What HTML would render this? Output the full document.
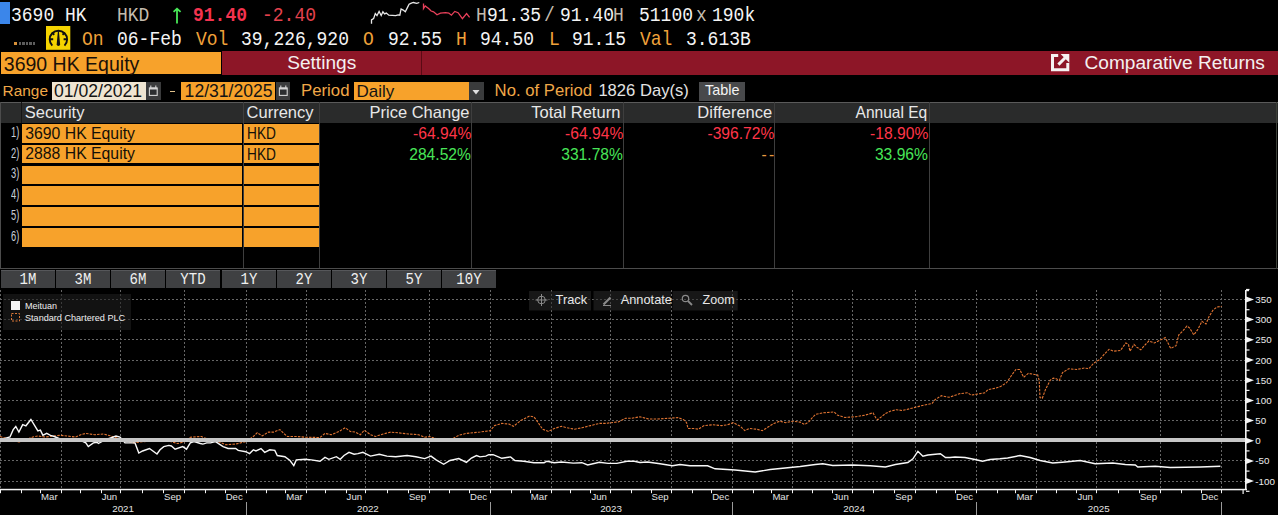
<!DOCTYPE html>
<html><head><meta charset="utf-8"><title>Comparative Returns</title>
<style>
html,body{margin:0;padding:0;background:#000;}
body{width:1278px;height:515px;position:relative;overflow:hidden;font-family:'Liberation Sans',sans-serif;}
.t{position:absolute;white-space:pre;}
.r{position:absolute;}
svg{position:absolute;left:0;top:0;}
</style></head><body>
<div class="r" style="left:0px;top:2px;width:10px;height:22px;background:#3b86ea;"></div>
<div class="t" style="top:6.32px;font-size:20.8px;line-height:20.8px;color:#f4f4f4;font-family:'Liberation Mono', monospace;left:11.40px;transform:scaleX(0.865);transform-origin:0 0;">3690 HK</div>
<div class="t" style="top:6.32px;font-size:20.8px;line-height:20.8px;color:#c4bcae;font-family:'Liberation Mono', monospace;left:117.40px;transform:scaleX(0.865);transform-origin:0 0;">HKD</div>
<div class="t" style="top:6.32px;font-size:20.8px;line-height:20.8px;color:#f5334f;font-family:'Liberation Mono', monospace;font-weight:bold;left:193.10px;transform:scaleX(0.865);transform-origin:0 0;">91.40</div>
<div class="t" style="top:6.32px;font-size:20.8px;line-height:20.8px;color:#e5424e;font-family:'Liberation Mono', monospace;left:262.00px;transform:scaleX(0.865);transform-origin:0 0;">-2.40</div>
<div class="t" style="top:6.32px;font-size:20.8px;line-height:20.8px;color:#c4bcae;font-family:'Liberation Mono', monospace;left:476.00px;transform:scaleX(0.865);transform-origin:0 0;">H</div>
<div class="t" style="top:6.32px;font-size:20.8px;line-height:20.8px;color:#f4f4f4;font-family:'Liberation Mono', monospace;left:486.80px;transform:scaleX(0.865);transform-origin:0 0;">91.35</div>
<div class="t" style="top:6.32px;font-size:20.8px;line-height:20.8px;color:#c4bcae;font-family:'Liberation Mono', monospace;left:544.30px;transform:scaleX(0.865);transform-origin:0 0;">/</div>
<div class="t" style="top:6.32px;font-size:20.8px;line-height:20.8px;color:#f4f4f4;font-family:'Liberation Mono', monospace;left:560.10px;transform:scaleX(0.865);transform-origin:0 0;">91.40</div>
<div class="t" style="top:6.32px;font-size:20.8px;line-height:20.8px;color:#c4bcae;font-family:'Liberation Mono', monospace;left:613.30px;transform:scaleX(0.865);transform-origin:0 0;">H</div>
<div class="t" style="top:6.32px;font-size:20.8px;line-height:20.8px;color:#f4f4f4;font-family:'Liberation Mono', monospace;left:638.80px;transform:scaleX(0.865);transform-origin:0 0;">51100</div>
<div class="t" style="top:6.32px;font-size:20.8px;line-height:20.8px;color:#c4bcae;font-family:'Liberation Mono', monospace;left:695.80px;transform:scaleX(0.865);transform-origin:0 0;">x</div>
<div class="t" style="top:6.32px;font-size:20.8px;line-height:20.8px;color:#f4f4f4;font-family:'Liberation Mono', monospace;left:711.50px;transform:scaleX(0.865);transform-origin:0 0;">190k</div>
<svg width="1278" height="60" style="position:absolute;left:0;top:0"><path d="M177 9 L177 23.6 M173.6 11.8 L177 8.6 L180.6 11.8" stroke="#48e858" stroke-width="1.8" fill="none"/></svg>
<div class="r" style="left:13.5px;top:41.5px;width:3.5px;height:3.5px;background:#d89038;"></div>
<div class="r" style="left:18.5px;top:41.5px;width:2.5px;height:3.5px;background:#5c5c5c;"></div>
<div class="r" style="left:22.1px;top:41.5px;width:2.5px;height:3.5px;background:#5c5c5c;"></div>
<div class="r" style="left:25.7px;top:41.5px;width:2.5px;height:3.5px;background:#5c5c5c;"></div>
<div class="r" style="left:29.3px;top:41.5px;width:2.5px;height:3.5px;background:#5c5c5c;"></div>
<div class="r" style="left:32.9px;top:41.5px;width:2.5px;height:3.5px;background:#5c5c5c;"></div>
<svg width="30" height="30" style="position:absolute;left:44px;top:24px" viewBox="44 24 30 30"><rect x="46" y="26" width="24.3" height="23.8" fill="#f5d400"/><path d="M52.3 45.6 A8.7 8.7 0 1 1 64.5 45.6" stroke="#111" stroke-width="1.9" fill="none"/><path d="M49.8 39.3 L53.2 39.3 M63.6 39.3 L67 39.3 M51.9 32.6 L54.3 34.8 M64.9 32.6 L62.5 34.8" stroke="#111" stroke-width="1.9"/><path d="M56.7 44.2 L57.9 31.2 L58.9 31.2 L60.1 44.2 A1.7 1.7 0 0 1 56.7 44.2 Z" fill="#111"/></svg>
<div class="t" style="top:30.12px;font-size:20.8px;line-height:20.8px;color:#f0a23a;font-family:'Liberation Mono', monospace;left:82.10px;transform:scaleX(0.865);transform-origin:0 0;">On</div>
<div class="t" style="top:30.12px;font-size:20.8px;line-height:20.8px;color:#f4f4f4;font-family:'Liberation Mono', monospace;left:117.40px;transform:scaleX(0.865);transform-origin:0 0;">06-Feb</div>
<div class="t" style="top:30.12px;font-size:20.8px;line-height:20.8px;color:#f0a23a;font-family:'Liberation Mono', monospace;left:196.20px;transform:scaleX(0.865);transform-origin:0 0;">Vol</div>
<div class="t" style="top:30.12px;font-size:20.8px;line-height:20.8px;color:#f4f4f4;font-family:'Liberation Mono', monospace;left:241.30px;transform:scaleX(0.865);transform-origin:0 0;">39,226,920</div>
<div class="t" style="top:30.12px;font-size:20.8px;line-height:20.8px;color:#f0a23a;font-family:'Liberation Mono', monospace;left:363.40px;transform:scaleX(0.865);transform-origin:0 0;">O</div>
<div class="t" style="top:30.12px;font-size:20.8px;line-height:20.8px;color:#f4f4f4;font-family:'Liberation Mono', monospace;left:387.70px;transform:scaleX(0.865);transform-origin:0 0;">92.55</div>
<div class="t" style="top:30.12px;font-size:20.8px;line-height:20.8px;color:#f0a23a;font-family:'Liberation Mono', monospace;left:456.30px;transform:scaleX(0.865);transform-origin:0 0;">H</div>
<div class="t" style="top:30.12px;font-size:20.8px;line-height:20.8px;color:#f4f4f4;font-family:'Liberation Mono', monospace;left:480.00px;transform:scaleX(0.865);transform-origin:0 0;">94.50</div>
<div class="t" style="top:30.12px;font-size:20.8px;line-height:20.8px;color:#f0a23a;font-family:'Liberation Mono', monospace;left:548.50px;transform:scaleX(0.865);transform-origin:0 0;">L</div>
<div class="t" style="top:30.12px;font-size:20.8px;line-height:20.8px;color:#f4f4f4;font-family:'Liberation Mono', monospace;left:572.20px;transform:scaleX(0.865);transform-origin:0 0;">91.15</div>
<div class="t" style="top:30.12px;font-size:20.8px;line-height:20.8px;color:#f0a23a;font-family:'Liberation Mono', monospace;left:639.80px;transform:scaleX(0.865);transform-origin:0 0;">Val</div>
<div class="t" style="top:30.12px;font-size:20.8px;line-height:20.8px;color:#f4f4f4;font-family:'Liberation Mono', monospace;left:685.80px;transform:scaleX(0.865);transform-origin:0 0;">3.613B</div>
<svg width="1278" height="60" style="position:absolute;left:0;top:0"><polyline points="371.5,23.7 371.5,19.9 373.6,18.6 375.3,13.5 377,15.6 379.1,11.4 381.2,15.6 382.9,11.8 384.6,13.9 386.3,13.1 388.8,15.2 395.6,15.6 398.1,14.8 399.8,15.2 401.1,8.9 403.2,10.1 405.3,11.8 407.4,7.6 409.1,4.2 410.8,3.4 413.3,2.5 416.7,3.4 419.3,2.5" stroke="#e8e8e8" stroke-width="1.3" fill="none"/><polyline points="423.5,3.4 423.5,8.5 425.2,5.9 428.6,8.5 431.1,11 433.6,11.8 437,14.8 440.4,13.1 445.5,12.7 448.8,13.1 451.4,15.2 454.8,11.4 458.1,12.7 462.4,18.6 466.6,13.5 469.6,17.3" stroke="#e8405a" stroke-width="1.3" fill="none"/></svg>
<div class="r" style="left:1px;top:51.8px;width:220.3px;height:22.400000000000006px;background:#f7a22b;"></div>
<div class="r" style="left:222px;top:51px;width:1056px;height:24.400000000000006px;background:#8d1627;"></div>
<div class="r" style="left:421px;top:51px;width:1px;height:24px;background:#5a0a14;"></div>
<div class="t" style="top:54.88px;font-size:19.5px;line-height:19.5px;color:#1a1008;font-family:'Liberation Sans', sans-serif;left:3.80px;">3690 HK Equity</div>
<div class="t" style="top:52.54px;font-size:19.1px;line-height:19.1px;color:#f4f0f0;font-family:'Liberation Sans', sans-serif;left:287.20px;">Settings</div>
<div class="t" style="top:52.54px;font-size:19.1px;line-height:19.1px;color:#f4f0f0;font-family:'Liberation Sans', sans-serif;left:1084.50px;">Comparative Returns</div>
<svg width="24" height="24" style="position:absolute;left:1048px;top:51px" viewBox="1048 51 24 24"><path d="M1058.2 55.5 H1052.5 V69.7 H1067.8 V63" stroke="#f6f2f2" stroke-width="3" fill="none"/><path d="M1060.6 54 H1069.3 V62.7 Z" fill="#f6f2f2"/><path d="M1058.4 64.6 L1065.2 57.8" stroke="#f6f2f2" stroke-width="3"/></svg>
<div class="t" style="top:82.74px;font-size:15.4px;line-height:15.4px;color:#f0a848;font-family:'Liberation Sans', sans-serif;left:2.60px;">Range</div>
<div class="r" style="left:51.6px;top:82px;width:94.4px;height:18.200000000000003px;background:#efe5d2;"></div>
<div class="t" style="top:83.18px;font-size:17.6px;line-height:17.6px;color:#141414;font-family:'Liberation Sans', sans-serif;left:54.00px;">01/02/2021</div>
<div class="r" style="left:146.4px;top:82px;width:14.300000000000011px;height:18px;background:#3a3b3c;"></div>
<svg width="16" height="20" style="position:absolute;left:146.4px;top:82px" viewBox="0 0 16 20"><rect x="3.4" y="6" width="7.8" height="7.4" fill="#2c2e30" stroke="#d4d4d4" stroke-width="1.1"/><rect x="3.4" y="5.6" width="7.8" height="1.9" fill="#d4d4d4"/><path d="M4.8 3.6 L4.8 6 M9.8 3.6 L9.8 6" stroke="#d4d4d4" stroke-width="1.1"/></svg>
<div class="r" style="left:170.3px;top:90.5px;width:4.5px;height:1.2999999999999972px;background:#e0c08a;"></div>
<div class="r" style="left:181.4px;top:82px;width:93.79999999999998px;height:18.200000000000003px;background:#f7a22b;"></div>
<div class="t" style="top:83.18px;font-size:17.6px;line-height:17.6px;color:#141414;font-family:'Liberation Sans', sans-serif;left:184.60px;">12/31/2025</div>
<div class="r" style="left:275.8px;top:82px;width:14.300000000000011px;height:18px;background:#3a3b3c;"></div>
<svg width="16" height="20" style="position:absolute;left:275.8px;top:82px" viewBox="0 0 16 20"><rect x="3.4" y="6" width="7.8" height="7.4" fill="#2c2e30" stroke="#d4d4d4" stroke-width="1.1"/><rect x="3.4" y="5.6" width="7.8" height="1.9" fill="#d4d4d4"/><path d="M4.8 3.6 L4.8 6 M9.8 3.6 L9.8 6" stroke="#d4d4d4" stroke-width="1.1"/></svg>
<div class="t" style="top:83.21px;font-size:16.8px;line-height:16.8px;color:#f0a848;font-family:'Liberation Sans', sans-serif;left:301.00px;">Period</div>
<div class="r" style="left:354.4px;top:82px;width:114.5px;height:18.200000000000003px;background:#f7a22b;"></div>
<div class="t" style="top:83.08px;font-size:17.0px;line-height:17.0px;color:#141414;font-family:'Liberation Sans', sans-serif;left:356.50px;">Daily</div>
<div class="r" style="left:469px;top:82px;width:14.5px;height:18px;background:#3a3b3c;"></div>
<svg width="16" height="20" style="position:absolute;left:469px;top:82px"><path d="M3.5 8 L10.5 8 L7 12.5 Z" fill="#e0e0e0"/></svg>
<div class="t" style="top:83.23px;font-size:16.7px;line-height:16.7px;color:#f0a848;font-family:'Liberation Sans', sans-serif;left:494.60px;">No. of Period</div>
<div class="t" style="top:83.24px;font-size:16.6px;line-height:16.6px;color:#e4e4e4;font-family:'Liberation Sans', sans-serif;left:598.40px;">1826 Day(s)</div>
<div class="r" style="left:699px;top:82px;width:46.10000000000002px;height:19px;background:#48494b;"></div>
<div class="t" style="top:83.10px;font-size:14.4px;line-height:14.4px;color:#f4f4f4;font-family:'Liberation Sans', sans-serif;left:705.00px;">Table</div>
<div class="r" style="left:0px;top:102px;width:1278px;height:1px;background:#5a5a5a;"></div>
<div class="r" style="left:0px;top:103px;width:1278px;height:20px;background:#2a2b2b;"></div>
<div class="r" style="left:0px;top:268px;width:1278px;height:1px;background:#4c4c4c;"></div>
<div class="r" style="left:0px;top:102px;width:1px;height:167px;background:#4c4c4c;"></div>
<div class="r" style="left:1276px;top:102px;width:1px;height:167px;background:#3c4038;"></div>
<div class="r" style="left:21px;top:102px;width:1px;height:21px;background:#151515;"></div>
<div class="r" style="left:243.0px;top:102px;width:1.0px;height:166px;background:#3e3e3e;"></div>
<div class="r" style="left:319.2px;top:102px;width:1.0px;height:166px;background:#3e3e3e;"></div>
<div class="r" style="left:471.0px;top:102px;width:1.0px;height:166px;background:#3e3e3e;"></div>
<div class="r" style="left:623.0px;top:102px;width:1.0px;height:166px;background:#3e3e3e;"></div>
<div class="r" style="left:774.4px;top:102px;width:1.0px;height:166px;background:#3e3e3e;"></div>
<div class="r" style="left:929.0px;top:102px;width:1.0px;height:166px;background:#3e3e3e;"></div>
<div class="t" style="top:104.36px;font-size:16.5px;line-height:16.5px;color:#e8e8e8;font-family:'Liberation Sans', sans-serif;left:24.80px;">Security</div>
<div class="t" style="top:104.36px;font-size:16.5px;line-height:16.5px;color:#e8e8e8;font-family:'Liberation Sans', sans-serif;left:246.60px;">Currency</div>
<div class="t" style="top:104.36px;font-size:16.5px;line-height:16.5px;color:#e8e8e8;font-family:'Liberation Sans', sans-serif;right:808.50px;">Price Change</div>
<div class="t" style="top:104.36px;font-size:16.5px;line-height:16.5px;color:#e8e8e8;font-family:'Liberation Sans', sans-serif;right:657.70px;">Total Return</div>
<div class="t" style="top:104.36px;font-size:16.5px;line-height:16.5px;color:#e8e8e8;font-family:'Liberation Sans', sans-serif;right:505.80px;">Difference</div>
<div class="t" style="top:104.36px;font-size:16.5px;line-height:16.5px;color:#e8e8e8;font-family:'Liberation Sans', sans-serif;right:351.10px;transform:scaleX(0.94);transform-origin:100% 0;">Annual Eq</div>
<div class="r" style="left:22px;top:124.0px;width:220.2px;height:18.599999999999994px;background:#f7a22b;"></div>
<div class="r" style="left:244.2px;top:124.0px;width:74.40000000000003px;height:18.599999999999994px;background:#f7a22b;"></div>
<div class="t" style="top:123.72px;font-size:15.5px;line-height:15.5px;color:#c8ced6;font-family:'Liberation Sans', sans-serif;left:10.60px;transform:scaleX(0.6);transform-origin:0 0;">1)</div>
<div class="r" style="left:22px;top:144.8px;width:220.2px;height:18.599999999999994px;background:#f7a22b;"></div>
<div class="r" style="left:244.2px;top:144.8px;width:74.40000000000003px;height:18.599999999999994px;background:#f7a22b;"></div>
<div class="t" style="top:144.52px;font-size:15.5px;line-height:15.5px;color:#c8ced6;font-family:'Liberation Sans', sans-serif;left:10.60px;transform:scaleX(0.6);transform-origin:0 0;">2)</div>
<div class="r" style="left:22px;top:165.6px;width:220.2px;height:18.599999999999994px;background:#f7a22b;"></div>
<div class="r" style="left:244.2px;top:165.6px;width:74.40000000000003px;height:18.599999999999994px;background:#f7a22b;"></div>
<div class="t" style="top:165.32px;font-size:15.5px;line-height:15.5px;color:#c8ced6;font-family:'Liberation Sans', sans-serif;left:10.60px;transform:scaleX(0.6);transform-origin:0 0;">3)</div>
<div class="r" style="left:22px;top:186.4px;width:220.2px;height:18.599999999999994px;background:#f7a22b;"></div>
<div class="r" style="left:244.2px;top:186.4px;width:74.40000000000003px;height:18.599999999999994px;background:#f7a22b;"></div>
<div class="t" style="top:186.12px;font-size:15.5px;line-height:15.5px;color:#c8ced6;font-family:'Liberation Sans', sans-serif;left:10.60px;transform:scaleX(0.6);transform-origin:0 0;">4)</div>
<div class="r" style="left:22px;top:207.2px;width:220.2px;height:18.600000000000023px;background:#f7a22b;"></div>
<div class="r" style="left:244.2px;top:207.2px;width:74.40000000000003px;height:18.600000000000023px;background:#f7a22b;"></div>
<div class="t" style="top:206.92px;font-size:15.5px;line-height:15.5px;color:#c8ced6;font-family:'Liberation Sans', sans-serif;left:10.60px;transform:scaleX(0.6);transform-origin:0 0;">5)</div>
<div class="r" style="left:22px;top:228.0px;width:220.2px;height:18.599999999999994px;background:#f7a22b;"></div>
<div class="r" style="left:244.2px;top:228.0px;width:74.40000000000003px;height:18.599999999999994px;background:#f7a22b;"></div>
<div class="t" style="top:227.72px;font-size:15.5px;line-height:15.5px;color:#c8ced6;font-family:'Liberation Sans', sans-serif;left:10.60px;transform:scaleX(0.6);transform-origin:0 0;">6)</div>
<div class="t" style="top:125.67px;font-size:15.8px;line-height:15.8px;color:#141008;font-family:'Liberation Sans', sans-serif;left:25.20px;">3690 HK Equity</div>
<div class="t" style="top:124.99px;font-size:16.3px;line-height:16.3px;color:#141008;font-family:'Liberation Sans', sans-serif;left:246.80px;transform:scaleX(0.84);transform-origin:0 0;">HKD</div>
<div class="t" style="top:146.47px;font-size:15.8px;line-height:15.8px;color:#141008;font-family:'Liberation Sans', sans-serif;left:25.20px;">2888 HK Equity</div>
<div class="t" style="top:145.79px;font-size:16.3px;line-height:16.3px;color:#141008;font-family:'Liberation Sans', sans-serif;left:246.80px;transform:scaleX(0.84);transform-origin:0 0;">HKD</div>
<div class="t" style="top:124.61px;font-size:16.2px;line-height:16.2px;color:#ff3548;font-family:'Liberation Sans', sans-serif;right:807.20px;transform:scaleX(0.965);transform-origin:100% 0;">-64.94%</div>
<div class="t" style="top:124.61px;font-size:16.2px;line-height:16.2px;color:#ff3548;font-family:'Liberation Sans', sans-serif;right:655.20px;transform:scaleX(0.965);transform-origin:100% 0;">-64.94%</div>
<div class="t" style="top:124.61px;font-size:16.2px;line-height:16.2px;color:#ff3548;font-family:'Liberation Sans', sans-serif;right:503.90px;transform:scaleX(0.965);transform-origin:100% 0;">-396.72%</div>
<div class="t" style="top:124.61px;font-size:16.2px;line-height:16.2px;color:#ff3548;font-family:'Liberation Sans', sans-serif;right:349.90px;transform:scaleX(0.965);transform-origin:100% 0;">-18.90%</div>
<div class="t" style="top:145.71px;font-size:16.2px;line-height:16.2px;color:#48e658;font-family:'Liberation Sans', sans-serif;right:807.20px;transform:scaleX(0.965);transform-origin:100% 0;">284.52%</div>
<div class="t" style="top:145.71px;font-size:16.2px;line-height:16.2px;color:#48e658;font-family:'Liberation Sans', sans-serif;right:655.20px;transform:scaleX(0.965);transform-origin:100% 0;">331.78%</div>
<div class="t" style="top:145.71px;font-size:16.2px;line-height:16.2px;color:#e89a40;font-family:'Liberation Sans', sans-serif;right:504.40px;transform:scaleX(0.965);transform-origin:100% 0;letter-spacing:-1px;">- -</div>
<div class="t" style="top:145.71px;font-size:16.2px;line-height:16.2px;color:#48e658;font-family:'Liberation Sans', sans-serif;right:349.90px;transform:scaleX(0.965);transform-origin:100% 0;">33.96%</div>
<div class="r" style="left:1.0px;top:269.8px;width:54.1px;height:18.19999999999999px;background:#3f4042;"></div>
<div class="r" style="left:1.0px;top:269.8px;width:54.1px;height:1.0px;background:#56575a;"></div>
<div class="t" style="top:272.15px;font-size:16.5px;line-height:16.5px;color:#f0f0f0;font-family:'Liberation Mono', monospace;left:-171.95px;width:400px;text-align:center;transform:scaleX(0.85);transform-origin:50% 0;">1M</div>
<div class="r" style="left:56.1px;top:269.8px;width:54.1px;height:18.19999999999999px;background:#3f4042;"></div>
<div class="r" style="left:56.1px;top:269.8px;width:54.1px;height:1.0px;background:#56575a;"></div>
<div class="t" style="top:272.15px;font-size:16.5px;line-height:16.5px;color:#f0f0f0;font-family:'Liberation Mono', monospace;left:-116.82px;width:400px;text-align:center;transform:scaleX(0.85);transform-origin:50% 0;">3M</div>
<div class="r" style="left:111.3px;top:269.8px;width:54.10000000000001px;height:18.19999999999999px;background:#3f4042;"></div>
<div class="r" style="left:111.3px;top:269.8px;width:54.10000000000001px;height:1.0px;background:#56575a;"></div>
<div class="t" style="top:272.15px;font-size:16.5px;line-height:16.5px;color:#f0f0f0;font-family:'Liberation Mono', monospace;left:-61.69px;width:400px;text-align:center;transform:scaleX(0.85);transform-origin:50% 0;">6M</div>
<div class="r" style="left:166.4px;top:269.8px;width:54.099999999999994px;height:18.19999999999999px;background:#3f4042;"></div>
<div class="r" style="left:166.4px;top:269.8px;width:54.099999999999994px;height:1.0px;background:#56575a;"></div>
<div class="t" style="top:272.15px;font-size:16.5px;line-height:16.5px;color:#f0f0f0;font-family:'Liberation Mono', monospace;left:-6.56px;width:400px;text-align:center;transform:scaleX(0.85);transform-origin:50% 0;">YTD</div>
<div class="r" style="left:221.5px;top:269.8px;width:54.10000000000002px;height:18.19999999999999px;background:#3f4042;"></div>
<div class="r" style="left:221.5px;top:269.8px;width:54.10000000000002px;height:1.0px;background:#56575a;"></div>
<div class="t" style="top:272.15px;font-size:16.5px;line-height:16.5px;color:#f0f0f0;font-family:'Liberation Mono', monospace;left:48.57px;width:400px;text-align:center;transform:scaleX(0.85);transform-origin:50% 0;">1Y</div>
<div class="r" style="left:276.7px;top:269.8px;width:54.10000000000002px;height:18.19999999999999px;background:#3f4042;"></div>
<div class="r" style="left:276.7px;top:269.8px;width:54.10000000000002px;height:1.0px;background:#56575a;"></div>
<div class="t" style="top:272.15px;font-size:16.5px;line-height:16.5px;color:#f0f0f0;font-family:'Liberation Mono', monospace;left:103.70px;width:400px;text-align:center;transform:scaleX(0.85);transform-origin:50% 0;">2Y</div>
<div class="r" style="left:331.8px;top:269.8px;width:54.099999999999966px;height:18.19999999999999px;background:#3f4042;"></div>
<div class="r" style="left:331.8px;top:269.8px;width:54.099999999999966px;height:1.0px;background:#56575a;"></div>
<div class="t" style="top:272.15px;font-size:16.5px;line-height:16.5px;color:#f0f0f0;font-family:'Liberation Mono', monospace;left:158.83px;width:400px;text-align:center;transform:scaleX(0.85);transform-origin:50% 0;">3Y</div>
<div class="r" style="left:386.9px;top:269.8px;width:54.10000000000002px;height:18.19999999999999px;background:#3f4042;"></div>
<div class="r" style="left:386.9px;top:269.8px;width:54.10000000000002px;height:1.0px;background:#56575a;"></div>
<div class="t" style="top:272.15px;font-size:16.5px;line-height:16.5px;color:#f0f0f0;font-family:'Liberation Mono', monospace;left:213.96px;width:400px;text-align:center;transform:scaleX(0.85);transform-origin:50% 0;">5Y</div>
<div class="r" style="left:442.0px;top:269.8px;width:54.10000000000002px;height:18.19999999999999px;background:#3f4042;"></div>
<div class="r" style="left:442.0px;top:269.8px;width:54.10000000000002px;height:1.0px;background:#56575a;"></div>
<div class="t" style="top:272.15px;font-size:16.5px;line-height:16.5px;color:#f0f0f0;font-family:'Liberation Mono', monospace;left:269.09px;width:400px;text-align:center;transform:scaleX(0.85);transform-origin:50% 0;">10Y</div>
<svg width="1278" height="515" style="position:absolute;left:0;top:0">
<line x1="0" y1="481.5" x2="1245" y2="481.5" stroke="#666666" stroke-width="1" stroke-dasharray="2 2"/>
<line x1="0" y1="460.5" x2="1245" y2="460.5" stroke="#666666" stroke-width="1" stroke-dasharray="2 2"/>
<line x1="0" y1="420.5" x2="1245" y2="420.5" stroke="#666666" stroke-width="1" stroke-dasharray="2 2"/>
<line x1="0" y1="400.5" x2="1245" y2="400.5" stroke="#666666" stroke-width="1" stroke-dasharray="2 2"/>
<line x1="0" y1="380.5" x2="1245" y2="380.5" stroke="#666666" stroke-width="1" stroke-dasharray="2 2"/>
<line x1="0" y1="360.5" x2="1245" y2="360.5" stroke="#666666" stroke-width="1" stroke-dasharray="2 2"/>
<line x1="0" y1="339.5" x2="1245" y2="339.5" stroke="#666666" stroke-width="1" stroke-dasharray="2 2"/>
<line x1="0" y1="319.5" x2="1245" y2="319.5" stroke="#666666" stroke-width="1" stroke-dasharray="2 2"/>
<line x1="0" y1="299.5" x2="1245" y2="299.5" stroke="#666666" stroke-width="1" stroke-dasharray="2 2"/>
<line x1="0.5" y1="290" x2="0.5" y2="489" stroke="#666666" stroke-width="1" stroke-dasharray="2 2"/>
<line x1="61.5" y1="290" x2="61.5" y2="489" stroke="#666666" stroke-width="1" stroke-dasharray="2 2"/>
<line x1="120.5" y1="290" x2="120.5" y2="489" stroke="#666666" stroke-width="1" stroke-dasharray="2 2"/>
<line x1="184.5" y1="290" x2="184.5" y2="489" stroke="#666666" stroke-width="1" stroke-dasharray="2 2"/>
<line x1="246.5" y1="290" x2="246.5" y2="489" stroke="#666666" stroke-width="1" stroke-dasharray="2 2"/>
<line x1="306.5" y1="290" x2="306.5" y2="489" stroke="#666666" stroke-width="1" stroke-dasharray="2 2"/>
<line x1="365.5" y1="290" x2="365.5" y2="489" stroke="#666666" stroke-width="1" stroke-dasharray="2 2"/>
<line x1="429.5" y1="290" x2="429.5" y2="489" stroke="#666666" stroke-width="1" stroke-dasharray="2 2"/>
<line x1="490.5" y1="290" x2="490.5" y2="489" stroke="#666666" stroke-width="1" stroke-dasharray="2 2"/>
<line x1="551.5" y1="290" x2="551.5" y2="489" stroke="#666666" stroke-width="1" stroke-dasharray="2 2"/>
<line x1="610.5" y1="290" x2="610.5" y2="489" stroke="#666666" stroke-width="1" stroke-dasharray="2 2"/>
<line x1="671.5" y1="290" x2="671.5" y2="489" stroke="#666666" stroke-width="1" stroke-dasharray="2 2"/>
<line x1="732.5" y1="290" x2="732.5" y2="489" stroke="#666666" stroke-width="1" stroke-dasharray="2 2"/>
<line x1="792.5" y1="290" x2="792.5" y2="489" stroke="#666666" stroke-width="1" stroke-dasharray="2 2"/>
<line x1="852.5" y1="290" x2="852.5" y2="489" stroke="#666666" stroke-width="1" stroke-dasharray="2 2"/>
<line x1="915.5" y1="290" x2="915.5" y2="489" stroke="#666666" stroke-width="1" stroke-dasharray="2 2"/>
<line x1="976.5" y1="290" x2="976.5" y2="489" stroke="#666666" stroke-width="1" stroke-dasharray="2 2"/>
<line x1="1036.5" y1="290" x2="1036.5" y2="489" stroke="#666666" stroke-width="1" stroke-dasharray="2 2"/>
<line x1="1096.5" y1="290" x2="1096.5" y2="489" stroke="#666666" stroke-width="1" stroke-dasharray="2 2"/>
<line x1="1160.5" y1="290" x2="1160.5" y2="489" stroke="#666666" stroke-width="1" stroke-dasharray="2 2"/>
<line x1="1221.5" y1="290" x2="1221.5" y2="489" stroke="#666666" stroke-width="1" stroke-dasharray="2 2"/>
<rect x="3" y="294" width="128" height="36" fill="#1e1e1e" fill-opacity="0.6"/>
<rect x="11" y="301" width="9" height="9" fill="#f4f4f4"/>
<rect x="11.5" y="313.5" width="8" height="7.5" fill="none" stroke="#e07a38" stroke-width="1" stroke-dasharray="2 1.5"/>
<rect x="529" y="291" width="62" height="19.5" fill="#2a2a2a" fill-opacity="0.55"/>
<rect x="593.5" y="291" width="77.5" height="19.5" fill="#2a2a2a" fill-opacity="0.55"/>
<rect x="672.5" y="291" width="65.20000000000005" height="19.5" fill="#2a2a2a" fill-opacity="0.55"/>
<circle cx="541.5" cy="300" r="3.8" stroke="#8a8a8a" stroke-width="1" fill="none"/><path d="M535.5 300 L547.5 300 M541.5 294 L541.5 306" stroke="#8a8a8a" stroke-width="1"/>
<path d="M603.5 304.5 L610.5 297.5" stroke="#8a8a8a" stroke-width="2.2"/><path d="M603 305.5 L611 305.5" stroke="#8a8a8a" stroke-width="1"/>
<circle cx="685.5" cy="298.5" r="3.2" stroke="#8a8a8a" stroke-width="1.2" fill="none"/><path d="M688 301 L692 305" stroke="#8a8a8a" stroke-width="1.8"/>
<polyline points="0,436.5 5,438 10,440 19,442 25,440 32.8,437 37.9,436 45,437 60.6,435.3 75.7,437 80.8,434.7 85.8,433.4 94.6,434.7 103.5,434 111,436 120,439 133.8,442.9 138.8,442.2 150,441 165,440 177.7,443.5 185.2,441.6 190.3,437.2 201.6,436.5 204.2,437.8 212,440 221.8,442.9 225.6,444.7 235.7,444.1 245.8,441.6 253.4,436.5 257.2,432.8 262.2,435.9 268.5,432.1 273.6,432.1 279.9,429.6 283.7,433.4 287.4,436.5 296.3,436.5 305.1,437.2 320,437.5 325,433.4 331.4,434.7 338.9,431.5 345.2,427.7 350.3,431.5 355.3,432.1 360.4,434.7 364.2,430.2 370.5,434.7 375.5,436.5 383.1,434 390.7,432.1 398.2,432.8 408.3,434 418.4,434.7 424.7,437.2 429.8,436.5 440,440 450,440 458.8,435.3 466.4,433.4 480,432 490.2,430.7 494.6,425.6 501.8,423.4 509.1,424.1 513.5,426.3 520.8,420.5 529.5,416.1 533.9,416.8 538.2,422.7 542.6,429.2 548.4,431.4 554.2,428.5 561.5,426.3 567.3,427.8 574.6,429.2 581.9,427.8 590.6,425.6 599.4,423.4 605.2,423.4 611,422.7 618.3,421.9 625.6,418.3 631.4,418.3 640,416.8 648.7,419 657.5,419 669.1,418.3 677.9,417.6 683.7,419.7 686.6,422.7 688,428.5 693.9,428.5 698.2,429.2 704.1,425.6 712.8,424.8 721.5,425.6 727.3,424.8 733.2,422.7 740.4,426.3 744.8,430.7 749.2,428.5 756.5,429.2 762.3,430.7 768.1,427 773.9,423.4 779.8,421.2 785.6,422.7 792.9,421.2 800,422.1 804.7,424.5 809.3,421.4 812.4,417.5 815.5,414.4 823.3,412.8 834.2,412 837.3,415.1 845,417.5 855.9,416.7 865.2,415.1 873,412.8 876.1,418.3 877.7,419.8 885.4,413.6 890.1,411.3 896.3,409.7 902.5,410.5 911.8,408.2 918.1,406.6 924.3,405 932,403.5 935.1,399.6 941.4,395.7 949.1,397.3 953.8,395.7 960,393.6 967.8,392.8 970.9,395.1 975.5,394.4 984.9,392.8 988,389.7 995.7,388.2 1000.4,386.6 1006.6,382.7 1011.3,375.7 1015.9,369.5 1019.8,369.5 1022.1,374.2 1023.7,377.3 1028.3,373.4 1033,374.2 1037.7,375 1039.2,380.4 1040,397.5 1042.3,398.3 1045.4,389.7 1050.1,380.4 1053.2,378.1 1056.3,378.8 1059.4,380.4 1062.5,372.6 1068.7,368.7 1076.5,369.5 1084.3,368 1088.9,368.7 1093.6,363.3 1099.8,359.4 1104.5,354 1109.1,349.3 1113.6,351.2 1120.4,350.5 1125.8,343 1128.5,344.4 1129.9,351.2 1134,344.4 1136.7,347.1 1140.8,349.8 1144.9,345 1148.9,341 1154.4,343 1159.8,340.3 1165.2,337.6 1168,343 1170.7,348.4 1176.1,345.7 1178.8,334.9 1182.9,330.8 1187,326 1189.7,328.1 1193.8,334.9 1197.9,329.4 1201.9,321.3 1206,324 1208.7,317.2 1212.8,310.4 1216.9,307 1221.7,306.3" stroke="#e07432" stroke-width="1.1" fill="none" stroke-dasharray="2.5 1.2"/>
<polyline points="2,440 5,438.4 10,437 13.2,429.6 15.8,426.5 18.9,432 22.7,424.6 25.9,425.8 30.9,419.5 37.9,430.9 40.4,430.2 42.9,435.3 46.7,433.4 50.5,435.3 54.3,436.5 60,439 70,440 80,440 85.8,442.9 88.3,446.6 93.4,442.9 97.2,442.2 98.4,443.5 105,440 116,436 120,437 125,442.9 135,442.9 138.8,453 142.6,451 149.5,448.5 157,454 160,449.8 163.8,446.6 168.8,445.4 171.4,446 175.1,449.2 182.7,446.6 186.5,449.2 190.3,442.9 194,441.6 200.4,443.5 202.9,444.1 206.7,442.9 210.5,442.9 215.5,441.6 223.1,446.6 228.1,448.5 235.7,448.5 238.2,450.4 245.8,451.7 249.6,453.6 253.4,449.8 255.9,451 261,448.5 264.7,452.3 269.8,449.8 274.8,450.4 277.3,455.5 284.9,456.7 290,460.5 293.8,465.6 296.3,459.9 305.1,459.3 311.4,459.9 320,461.2 325,457.4 328.8,459.3 336.4,456.7 340.2,459.3 344,455.5 349,452.3 354.1,454.2 357.9,453.6 362.9,452.3 370.5,456.1 379.3,454.2 386.9,456.1 395.7,456.7 407.1,455.5 415.9,456.7 424.7,458.6 431,456.1 436.1,459.9 443.7,464.3 450,460.5 458.8,458.6 466.4,462.4 471.4,458 476.5,455.5 480,456.9 485.8,456.1 488.7,454.7 493.1,454.7 501.8,458.3 510.6,456.9 514.9,460.5 523.7,461.2 533.9,462.7 544.1,462.7 547,461.2 554.2,462.7 561.5,462 573.2,463.1 581.9,462.7 587.7,464.9 599.4,462.3 608.1,463.4 616.8,463.4 627,461.2 634.3,461.2 640,462.5 647.5,462 660,463.8 672.5,465.8 680,464.5 690,465.8 707.6,465.8 715.1,468.8 735.1,470 755.2,472 770.2,469.5 790.2,467.5 800.2,466.5 815.3,464.5 822.8,463.8 832.8,465.5 852.8,465 870.3,465.8 885.4,467 895.4,464.5 907.9,462.5 912.9,458.8 917.9,451.3 922.9,456.3 927.9,455 940.4,453.8 945.5,457.5 950,457.5 955,457 965,457.5 975,459.5 982.5,461.3 990,459.5 1000,458.8 1007.6,458 1020.1,455.5 1030.1,457.5 1040.1,460.5 1052.7,463 1065.2,462 1080.2,460.5 1095.2,463.8 1112.7,463 1125.3,464.5 1135.3,465 1137.8,467 1155.3,466.3 1170.3,467.5 1200.4,467 1220.4,466.3" stroke="#f8f8f8" stroke-width="1.4" fill="none"/>
<rect x="0" y="438" width="1245" height="4" fill="#c6c6c6"/>
<rect x="1245" y="290" width="1.6" height="200" fill="#f4f4f4"/>
<rect x="1246" y="490.7" width="3.5" height="1.2" fill="#f4f4f4"/>
<path d="M1246 478.1 L1254 481.1 L1246 484.1 Z" fill="#f4f4f4"/>
<rect x="1246" y="470.5" width="3.5" height="1.2" fill="#f4f4f4"/>
<path d="M1246 457.9 L1254 460.9 L1246 463.9 Z" fill="#f4f4f4"/>
<rect x="1246" y="450.3" width="3.5" height="1.2" fill="#f4f4f4"/>
<path d="M1246 437.7 L1254 440.7 L1246 443.7 Z" fill="#f4f4f4"/>
<rect x="1246" y="430.1" width="3.5" height="1.2" fill="#f4f4f4"/>
<path d="M1246 417.5 L1254 420.5 L1246 423.5 Z" fill="#f4f4f4"/>
<rect x="1246" y="410.0" width="3.5" height="1.2" fill="#f4f4f4"/>
<path d="M1246 397.4 L1254 400.4 L1246 403.4 Z" fill="#f4f4f4"/>
<rect x="1246" y="389.8" width="3.5" height="1.2" fill="#f4f4f4"/>
<path d="M1246 377.2 L1254 380.2 L1246 383.2 Z" fill="#f4f4f4"/>
<rect x="1246" y="369.6" width="3.5" height="1.2" fill="#f4f4f4"/>
<path d="M1246 357.0 L1254 360.0 L1246 363.0 Z" fill="#f4f4f4"/>
<rect x="1246" y="349.4" width="3.5" height="1.2" fill="#f4f4f4"/>
<path d="M1246 336.8 L1254 339.8 L1246 342.8 Z" fill="#f4f4f4"/>
<rect x="1246" y="329.2" width="3.5" height="1.2" fill="#f4f4f4"/>
<path d="M1246 316.6 L1254 319.6 L1246 322.6 Z" fill="#f4f4f4"/>
<rect x="1246" y="309.1" width="3.5" height="1.2" fill="#f4f4f4"/>
<path d="M1246 296.5 L1254 299.5 L1246 302.5 Z" fill="#f4f4f4"/>
<rect x="1246" y="288.9" width="3.5" height="1.2" fill="#f4f4f4"/>
<rect x="1245" y="290" width="4" height="1.2" fill="#f4f4f4"/>
<rect x="0" y="488.8" width="1247" height="1.5" fill="#f4f4f4"/>
<rect x="0" y="490" width="1" height="3.2" fill="#f4f4f4"/>
<rect x="21" y="490" width="1" height="3.2" fill="#f4f4f4"/>
<rect x="40" y="490" width="1" height="3.2" fill="#f4f4f4"/>
<rect x="61" y="490" width="1" height="3.2" fill="#f4f4f4"/>
<rect x="80" y="490" width="1" height="3.2" fill="#f4f4f4"/>
<rect x="101" y="490" width="1" height="3.2" fill="#f4f4f4"/>
<rect x="120" y="490" width="1" height="3.2" fill="#f4f4f4"/>
<rect x="142" y="490" width="1" height="3.2" fill="#f4f4f4"/>
<rect x="163" y="490" width="1" height="3.2" fill="#f4f4f4"/>
<rect x="184" y="490" width="1" height="3.2" fill="#f4f4f4"/>
<rect x="205" y="490" width="1" height="3.2" fill="#f4f4f4"/>
<rect x="225" y="490" width="1" height="3.2" fill="#f4f4f4"/>
<rect x="246" y="490" width="1" height="3.2" fill="#f4f4f4"/>
<rect x="266" y="490" width="1" height="3.2" fill="#f4f4f4"/>
<rect x="285" y="490" width="1" height="3.2" fill="#f4f4f4"/>
<rect x="306" y="490" width="1" height="3.2" fill="#f4f4f4"/>
<rect x="325" y="490" width="1" height="3.2" fill="#f4f4f4"/>
<rect x="346" y="490" width="1" height="3.2" fill="#f4f4f4"/>
<rect x="365" y="490" width="1" height="3.2" fill="#f4f4f4"/>
<rect x="387" y="490" width="1" height="3.2" fill="#f4f4f4"/>
<rect x="408" y="490" width="1" height="3.2" fill="#f4f4f4"/>
<rect x="429" y="490" width="1" height="3.2" fill="#f4f4f4"/>
<rect x="449" y="490" width="1" height="3.2" fill="#f4f4f4"/>
<rect x="469" y="490" width="1" height="3.2" fill="#f4f4f4"/>
<rect x="490" y="490" width="1" height="3.2" fill="#f4f4f4"/>
<rect x="511" y="490" width="1" height="3.2" fill="#f4f4f4"/>
<rect x="530" y="490" width="1" height="3.2" fill="#f4f4f4"/>
<rect x="551" y="490" width="1" height="3.2" fill="#f4f4f4"/>
<rect x="570" y="490" width="1" height="3.2" fill="#f4f4f4"/>
<rect x="590" y="490" width="1" height="3.2" fill="#f4f4f4"/>
<rect x="610" y="490" width="1" height="3.2" fill="#f4f4f4"/>
<rect x="631" y="490" width="1" height="3.2" fill="#f4f4f4"/>
<rect x="651" y="490" width="1" height="3.2" fill="#f4f4f4"/>
<rect x="671" y="490" width="1" height="3.2" fill="#f4f4f4"/>
<rect x="692" y="490" width="1" height="3.2" fill="#f4f4f4"/>
<rect x="711" y="490" width="1" height="3.2" fill="#f4f4f4"/>
<rect x="732" y="490" width="1" height="3.2" fill="#f4f4f4"/>
<rect x="753" y="490" width="1" height="3.2" fill="#f4f4f4"/>
<rect x="771" y="490" width="1" height="3.2" fill="#f4f4f4"/>
<rect x="792" y="490" width="1" height="3.2" fill="#f4f4f4"/>
<rect x="812" y="490" width="1" height="3.2" fill="#f4f4f4"/>
<rect x="832" y="490" width="1" height="3.2" fill="#f4f4f4"/>
<rect x="852" y="490" width="1" height="3.2" fill="#f4f4f4"/>
<rect x="873" y="490" width="1" height="3.2" fill="#f4f4f4"/>
<rect x="894" y="490" width="1" height="3.2" fill="#f4f4f4"/>
<rect x="915" y="490" width="1" height="3.2" fill="#f4f4f4"/>
<rect x="936" y="490" width="1" height="3.2" fill="#f4f4f4"/>
<rect x="955" y="490" width="1" height="3.2" fill="#f4f4f4"/>
<rect x="976" y="490" width="1" height="3.2" fill="#f4f4f4"/>
<rect x="997" y="490" width="1" height="3.2" fill="#f4f4f4"/>
<rect x="1015" y="490" width="1" height="3.2" fill="#f4f4f4"/>
<rect x="1036" y="490" width="1" height="3.2" fill="#f4f4f4"/>
<rect x="1056" y="490" width="1" height="3.2" fill="#f4f4f4"/>
<rect x="1076" y="490" width="1" height="3.2" fill="#f4f4f4"/>
<rect x="1096" y="490" width="1" height="3.2" fill="#f4f4f4"/>
<rect x="1118" y="490" width="1" height="3.2" fill="#f4f4f4"/>
<rect x="1139" y="490" width="1" height="3.2" fill="#f4f4f4"/>
<rect x="1160" y="490" width="1" height="3.2" fill="#f4f4f4"/>
<rect x="1181" y="490" width="1" height="3.2" fill="#f4f4f4"/>
<rect x="1201" y="490" width="1" height="3.2" fill="#f4f4f4"/>
<rect x="1221" y="490" width="1" height="3.2" fill="#f4f4f4"/>
<rect x="1242.5" y="490" width="1.2" height="4" fill="#f4f4f4"/>
<rect x="246" y="502" width="1" height="13" fill="#9a9a9a"/>
<rect x="490" y="502" width="1" height="13" fill="#9a9a9a"/>
<rect x="732" y="502" width="1" height="13" fill="#9a9a9a"/>
<rect x="976" y="502" width="1" height="13" fill="#9a9a9a"/>
<rect x="1221" y="502" width="1" height="13" fill="#9a9a9a"/>
</svg>
<div class="t" style="top:491.96px;font-size:9.6px;line-height:9.6px;color:#e4e4e4;font-family:'Liberation Sans', sans-serif;left:-150.63px;width:400px;text-align:center;">Mar</div>
<div class="t" style="top:491.96px;font-size:9.6px;line-height:9.6px;color:#e4e4e4;font-family:'Liberation Sans', sans-serif;left:-90.59px;width:400px;text-align:center;">Jun</div>
<div class="t" style="top:491.96px;font-size:9.6px;line-height:9.6px;color:#e4e4e4;font-family:'Liberation Sans', sans-serif;left:-27.40px;width:400px;text-align:center;">Sep</div>
<div class="t" style="top:491.96px;font-size:9.6px;line-height:9.6px;color:#e4e4e4;font-family:'Liberation Sans', sans-serif;left:34.22px;width:400px;text-align:center;">Dec</div>
<div class="t" style="top:491.96px;font-size:9.6px;line-height:9.6px;color:#e4e4e4;font-family:'Liberation Sans', sans-serif;left:94.43px;width:400px;text-align:center;">Mar</div>
<div class="t" style="top:491.96px;font-size:9.6px;line-height:9.6px;color:#e4e4e4;font-family:'Liberation Sans', sans-serif;left:154.33px;width:400px;text-align:center;">Jun</div>
<div class="t" style="top:491.96px;font-size:9.6px;line-height:9.6px;color:#e4e4e4;font-family:'Liberation Sans', sans-serif;left:217.50px;width:400px;text-align:center;">Sep</div>
<div class="t" style="top:491.96px;font-size:9.6px;line-height:9.6px;color:#e4e4e4;font-family:'Liberation Sans', sans-serif;left:278.54px;width:400px;text-align:center;">Dec</div>
<div class="t" style="top:491.96px;font-size:9.6px;line-height:9.6px;color:#e4e4e4;font-family:'Liberation Sans', sans-serif;left:339.13px;width:400px;text-align:center;">Mar</div>
<div class="t" style="top:491.96px;font-size:9.6px;line-height:9.6px;color:#e4e4e4;font-family:'Liberation Sans', sans-serif;left:399.21px;width:400px;text-align:center;">Jun</div>
<div class="t" style="top:491.96px;font-size:9.6px;line-height:9.6px;color:#e4e4e4;font-family:'Liberation Sans', sans-serif;left:460.14px;width:400px;text-align:center;">Sep</div>
<div class="t" style="top:491.96px;font-size:9.6px;line-height:9.6px;color:#e4e4e4;font-family:'Liberation Sans', sans-serif;left:520.66px;width:400px;text-align:center;">Dec</div>
<div class="t" style="top:491.96px;font-size:9.6px;line-height:9.6px;color:#e4e4e4;font-family:'Liberation Sans', sans-serif;left:580.65px;width:400px;text-align:center;">Mar</div>
<div class="t" style="top:491.96px;font-size:9.6px;line-height:9.6px;color:#e4e4e4;font-family:'Liberation Sans', sans-serif;left:641.03px;width:400px;text-align:center;">Jun</div>
<div class="t" style="top:491.96px;font-size:9.6px;line-height:9.6px;color:#e4e4e4;font-family:'Liberation Sans', sans-serif;left:703.71px;width:400px;text-align:center;">Sep</div>
<div class="t" style="top:491.96px;font-size:9.6px;line-height:9.6px;color:#e4e4e4;font-family:'Liberation Sans', sans-serif;left:764.64px;width:400px;text-align:center;">Dec</div>
<div class="t" style="top:491.96px;font-size:9.6px;line-height:9.6px;color:#e4e4e4;font-family:'Liberation Sans', sans-serif;left:824.65px;width:400px;text-align:center;">Mar</div>
<div class="t" style="top:491.96px;font-size:9.6px;line-height:9.6px;color:#e4e4e4;font-family:'Liberation Sans', sans-serif;left:885.11px;width:400px;text-align:center;">Jun</div>
<div class="t" style="top:491.96px;font-size:9.6px;line-height:9.6px;color:#e4e4e4;font-family:'Liberation Sans', sans-serif;left:948.48px;width:400px;text-align:center;">Sep</div>
<div class="t" style="top:491.96px;font-size:9.6px;line-height:9.6px;color:#e4e4e4;font-family:'Liberation Sans', sans-serif;left:1009.87px;width:400px;text-align:center;">Dec</div>
<div class="t" style="top:503.63px;font-size:9.8px;line-height:9.8px;color:#e4e4e4;font-family:'Liberation Sans', sans-serif;left:-76.88px;width:400px;text-align:center;">2021</div>
<div class="t" style="top:503.63px;font-size:9.8px;line-height:9.8px;color:#e4e4e4;font-family:'Liberation Sans', sans-serif;left:167.90px;width:400px;text-align:center;">2022</div>
<div class="t" style="top:503.63px;font-size:9.8px;line-height:9.8px;color:#e4e4e4;font-family:'Liberation Sans', sans-serif;left:411.05px;width:400px;text-align:center;">2023</div>
<div class="t" style="top:503.63px;font-size:9.8px;line-height:9.8px;color:#e4e4e4;font-family:'Liberation Sans', sans-serif;left:654.10px;width:400px;text-align:center;">2024</div>
<div class="t" style="top:503.63px;font-size:9.8px;line-height:9.8px;color:#e4e4e4;font-family:'Liberation Sans', sans-serif;left:898.75px;width:400px;text-align:center;">2025</div>
<div class="t" style="top:476.61px;font-size:9.8px;line-height:9.8px;color:#ececec;font-family:'Liberation Sans', sans-serif;left:1255.30px;">-100</div>
<div class="t" style="top:456.43px;font-size:9.8px;line-height:9.8px;color:#ececec;font-family:'Liberation Sans', sans-serif;left:1255.30px;">-50</div>
<div class="t" style="top:436.25px;font-size:9.8px;line-height:9.8px;color:#ececec;font-family:'Liberation Sans', sans-serif;left:1255.30px;">0</div>
<div class="t" style="top:416.07px;font-size:9.8px;line-height:9.8px;color:#ececec;font-family:'Liberation Sans', sans-serif;left:1255.30px;">50</div>
<div class="t" style="top:395.89px;font-size:9.8px;line-height:9.8px;color:#ececec;font-family:'Liberation Sans', sans-serif;left:1255.30px;">100</div>
<div class="t" style="top:375.71px;font-size:9.8px;line-height:9.8px;color:#ececec;font-family:'Liberation Sans', sans-serif;left:1255.30px;">150</div>
<div class="t" style="top:355.53px;font-size:9.8px;line-height:9.8px;color:#ececec;font-family:'Liberation Sans', sans-serif;left:1255.30px;">200</div>
<div class="t" style="top:335.35px;font-size:9.8px;line-height:9.8px;color:#ececec;font-family:'Liberation Sans', sans-serif;left:1255.30px;">250</div>
<div class="t" style="top:315.17px;font-size:9.8px;line-height:9.8px;color:#ececec;font-family:'Liberation Sans', sans-serif;left:1255.30px;">300</div>
<div class="t" style="top:294.99px;font-size:9.8px;line-height:9.8px;color:#ececec;font-family:'Liberation Sans', sans-serif;left:1255.30px;">350</div>
<div class="t" style="top:302.16px;font-size:9.0px;line-height:9.0px;color:#eeeeee;font-family:'Liberation Sans', sans-serif;left:25.00px;">Meituan</div>
<div class="t" style="top:314.44px;font-size:9.1px;line-height:9.1px;color:#eeeeee;font-family:'Liberation Sans', sans-serif;left:25.00px;">Standard Chartered PLC</div>
<div class="t" style="top:293.95px;font-size:12.8px;line-height:12.8px;color:#e8e8e8;font-family:'Liberation Sans', sans-serif;left:555.60px;">Track</div>
<div class="t" style="top:293.95px;font-size:12.8px;line-height:12.8px;color:#e8e8e8;font-family:'Liberation Sans', sans-serif;left:620.70px;">Annotate</div>
<div class="t" style="top:294.00px;font-size:12.5px;line-height:12.5px;color:#e8e8e8;font-family:'Liberation Sans', sans-serif;left:702.60px;">Zoom</div>
</body></html>
